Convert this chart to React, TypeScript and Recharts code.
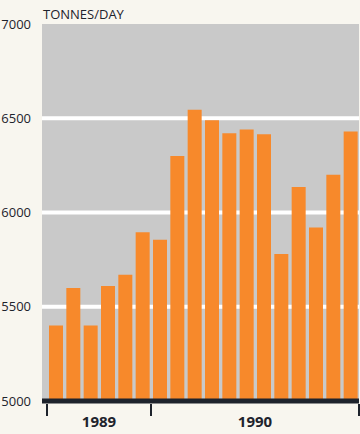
import { BarChart, Bar, XAxis, YAxis, CartesianGrid } from "recharts";

const months = [
	"Jul 89", "Aug 89", "Sep 89", "Oct 89", "Nov 89", "Dec 89",
	"Jan 90", "Feb 90", "Mar 90", "Apr 90", "May 90", "Jun 90",
	"Jul 90", "Aug 90", "Sep 90", "Oct 90", "Nov 90", "Dec 90",
];
const tonnesPerDay = [
	5400, 5600, 5400, 5610, 5670, 5895,
	5855, 6300, 6545, 6490, 6420, 6440,
	6415, 5780, 6135, 5920, 6200, 6430,
];
const yTicks = [5000, 5500, 6000, 6500, 7000];
const yearBounds = [0, 6, 18];
const yearMids = [3, 12];
const yearNames = ["1989", "1990"];

// pos = month centre on a 0..18 month scale, used by the year axis
const data = months.map((m, i) => ({ month: m, value: tonnesPerDay[i], pos: i + 0.5 }));

const FONT = "'Open Sans', sans-serif";
const INK = "#1e232c";

// one axis draws both the year boundary marks and the year names
function YearTick(props: any) {
	const { x, y, payload } = props;
	const v = payload.value;
	if (yearBounds.includes(v)) {
		return <line x1={x} x2={x} y1={y + 3} y2={y + 15} stroke={INK} strokeWidth={2} />;
	}
	return (
		<text
			x={x}
			y={y + 26}
			textAnchor="middle"
			fontSize={15}
			fontWeight={700}
			fill={INK}
			fontFamily={FONT}
		>
			{yearNames[yearMids.indexOf(v)]}
		</text>
	);
}

export default function App() {
	return (
		<div
			style={{
				position: "absolute",
				left: 0,
				top: 0,
				width: 360,
				height: 434,
				overflow: "hidden",
				background: "#f8f6ef",
				fontFamily: FONT,
			}}
		>
			<div
				style={{
					position: "absolute",
					left: 43,
					top: 5,
					fontSize: 13,
					color: INK,
				}}
			>
				TONNES/DAY
			</div>
			<BarChart
				width={360}
				height={434}
				data={data}
				margin={{ top: 24, right: 1, left: 0, bottom: 0 }}
			>
				<CartesianGrid
					vertical={false}
					fill="#c9c9c9"
					stroke="#ffffff"
					strokeWidth={4}
					horizontalValues={[5500, 6000, 6500]}
				/>
				<YAxis
					width={42}
					domain={[5000, 7000]}
					ticks={yTicks}
					axisLine={false}
					tickLine={false}
					tickMargin={5}
					tick={{ fontSize: 13, fill: INK, fontFamily: FONT }}
				/>
				<XAxis xAxisId="m" dataKey="month" hide height={0} padding={{ left: 5, right: 0 }} />
				<Bar
					xAxisId="m"
					dataKey="value"
					fill="#f7892b"
					barSize={14}
					isAnimationActive={false}
				/>
				<XAxis
					xAxisId="years"
					type="number"
					dataKey="pos"
					domain={[0, 18]}
					allowDataOverflow
					ticks={[...yearBounds, ...yearMids]}
					padding={{ left: 5, right: 0 }}
					height={33}
					axisLine={{ stroke: INK, strokeWidth: 5 }}
					tickLine={false}
					tickSize={0}
					tickMargin={0}
					interval={0}
					tick={YearTick}
				/>
			</BarChart>
		</div>
	);
}
